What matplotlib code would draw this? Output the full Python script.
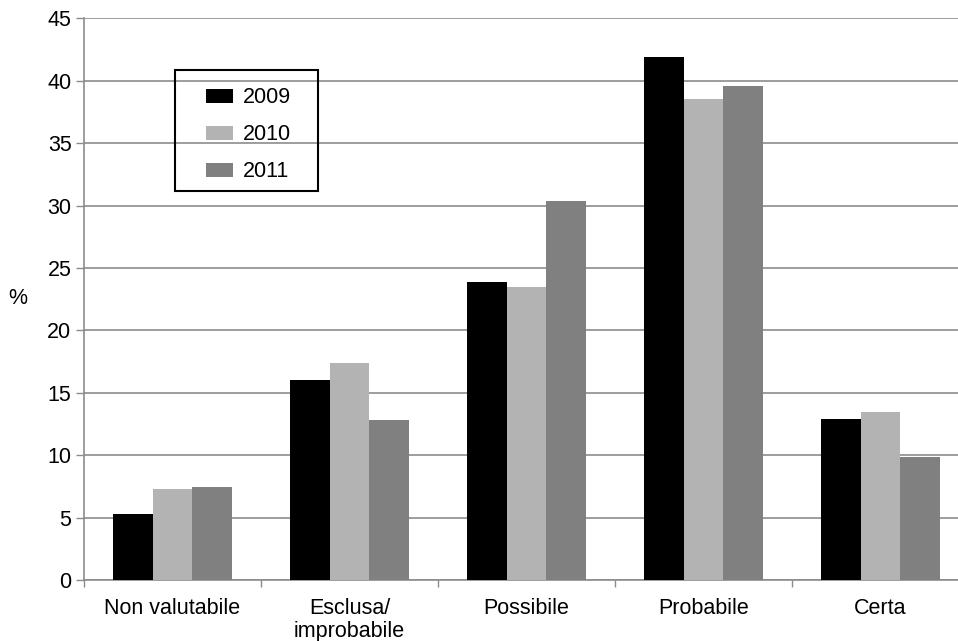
import numpy as np
import matplotlib

matplotlib.use("Agg")
import matplotlib.pyplot as plt  # noqa: E402
from matplotlib.patches import Rectangle  # noqa: E402

plt.rcParams["font.family"] = ["Liberation Sans", "DejaVu Sans"]

categories = ["Non valutabile", "Esclusa/\nimprobabile", "Possibile", "Probabile", "Certa"]
years = ["2009", "2010", "2011"]
values_2009 = [5.25, 16.0, 23.9, 41.9, 12.9]
values_2010 = [7.3, 17.35, 23.45, 38.5, 13.45]
values_2011 = [7.45, 12.8, 30.4, 39.6, 9.85]
colors = ["#000000", "#b3b3b3", "#808080"]

W, H = 958, 641
FS = 15.5
fig = plt.figure(figsize=(W / 100, H / 100), dpi=100)
ax = fig.add_axes([84 / W, (H - 580) / H, (969 - 84) / W, (580 - 18.3) / H])

x = np.arange(len(categories))
width = 0.225
for i, (vals, label, c) in enumerate(zip([values_2009, values_2010, values_2011], years, colors)):
    ax.bar(x + (i - 1) * width, vals, width, color=c, label=label, zorder=3)

ax.set_xlim(-0.5, len(categories) - 0.5)
ax.set_ylim(0, 45)
ax.set_yticks(np.arange(0, 46, 5))
ax.yaxis.grid(True, color="#8c8c8c", lw=1.2, zorder=0)

# category labels in the middle, tick marks on the group boundaries
ax.set_xticks(x)
ax.set_xticklabels(categories, fontsize=FS, linespacing=1.1)
ax.tick_params(axis="x", length=0, pad=13)
ax.set_xticks(np.arange(-0.5, len(categories), 1), minor=True)
ax.tick_params(axis="x", which="minor", length=5, color="#8c8c8c", width=1)
ax.tick_params(axis="y", labelsize=FS, length=6, color="#8c8c8c", width=1, pad=3)

for side in ["top", "right"]:
    ax.spines[side].set_visible(False)
for side in ["left", "bottom"]:
    ax.spines[side].set_color("#8c8c8c")
    ax.spines[side].set_linewidth(1.2)

fig.text(18 / W, 1 - 298 / H, "%", fontsize=FS, ha="center", va="center")

# legend entries without their own frame; box drawn separately
leg = ax.legend(
    loc="upper left",
    bbox_to_anchor=(200 / W, 1 - 81 / H),
    bbox_transform=fig.transFigure,
    frameon=False,
    fontsize=FS,
    handlelength=1.25,
    handleheight=0.65,
    handletextpad=0.45,
    labelspacing=0.74,
    borderpad=0.3,
    borderaxespad=0,
)
fig.patches.append(
    Rectangle((175 / W, 1 - 191 / H), (318 - 175) / W, (191 - 70) / H,
              transform=fig.transFigure, fill=False, edgecolor="black", lw=1.5)
)

fig.savefig("out.png", dpi=100)
